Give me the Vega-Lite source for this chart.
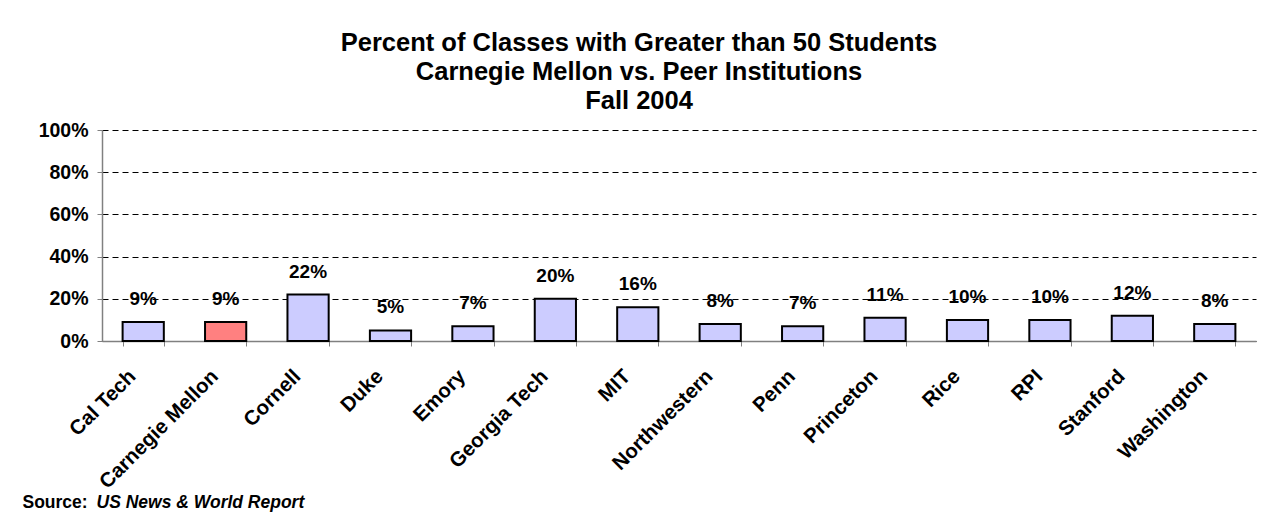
{
  "$schema": "https://vega.github.io/schema/vega-lite/v6.json",
  "autosize": {"type": "none"},
  "padding": {"left": 102, "top": 130, "right": 30, "bottom": 176},
  "width": 1154,
  "height": 211,
  "background": "white",
  "title": {
    "text": ["Percent of Classes with Greater than 50 Students", "Carnegie Mellon vs. Peer Institutions", "Fall 2004"],
    "font": "Liberation Sans",
    "fontSize": 25.5,
    "fontWeight": "bold",
    "color": "black",
    "lineHeight": 29,
    "anchor": "middle",
    "frame": "bounds",
    "offset": 6
  },
  "data": {
    "values": [
      {"school": "Cal Tech", "pct": 0.09, "cmu": "no"},
      {"school": "Carnegie Mellon", "pct": 0.09, "cmu": "yes"},
      {"school": "Cornell", "pct": 0.22, "cmu": "no"},
      {"school": "Duke", "pct": 0.05, "cmu": "no"},
      {"school": "Emory", "pct": 0.07, "cmu": "no"},
      {"school": "Georgia Tech", "pct": 0.20, "cmu": "no"},
      {"school": "MIT", "pct": 0.16, "cmu": "no"},
      {"school": "Northwestern", "pct": 0.08, "cmu": "no"},
      {"school": "Penn", "pct": 0.07, "cmu": "no"},
      {"school": "Princeton", "pct": 0.11, "cmu": "no"},
      {"school": "Rice", "pct": 0.10, "cmu": "no"},
      {"school": "RPI", "pct": 0.10, "cmu": "no"},
      {"school": "Stanford", "pct": 0.12, "cmu": "no"},
      {"school": "Washington", "pct": 0.08, "cmu": "no"}
    ]
  },
  "encoding": {
    "x": {
      "field": "school",
      "type": "nominal",
      "sort": null,
      "scale": {"paddingInner": 0.5, "paddingOuter": 0.25},
      "axis": {
        "title": "Source:",
        "titleX": -80,
        "titleY": 166,
        "titleAlign": "left",
        "titleAnchor": "start",
        "titleBaseline": "alphabetic",
        "titleFont": "Liberation Sans",
        "titleFontSize": 17.5,
        "titleFontWeight": "bold",
        "titleColor": "black",
        "labelAngle": -45,
        "labelAlign": "right",
        "labelBaseline": "middle",
        "labelFont": "Liberation Sans",
        "labelFontSize": 20.5,
        "labelFontWeight": "bold",
        "labelColor": "black",
        "labelPadding": 27,
        "labelOffset": -11,
        "tickBand": "extent",
        "tickSize": 5,
        "tickColor": "#808080",
        "domainColor": "#808080",
        "domainWidth": 1.5,
        "grid": false
      }
    },
    "y": {
      "field": "pct",
      "type": "quantitative",
      "scale": {"domain": [0, 1], "nice": false},
      "axis": {
        "values": [0, 0.2, 0.4, 0.6, 0.8, 1],
        "format": ".0%",
        "title": "US News & World Report",
        "titleAngle": 0,
        "titleX": -6,
        "titleY": 377,
        "titleAlign": "left",
        "titleBaseline": "alphabetic",
        "titleFont": "Liberation Sans",
        "titleFontSize": 17.5,
        "titleFontWeight": "bold",
        "titleFontStyle": "italic",
        "titleColor": "black",
        "labelFont": "Liberation Sans",
        "labelFontSize": 19.5,
        "labelFontWeight": "bold",
        "labelColor": "black",
        "labelPadding": 9,
        "tickSize": 5,
        "tickColor": "#808080",
        "domainColor": "#808080",
        "domainWidth": 1.5,
        "grid": true,
        "gridColor": "black",
        "gridDash": [6, 4],
        "gridWidth": 1
      }
    }
  },
  "layer": [
    {
      "mark": {"type": "bar", "stroke": "black", "strokeWidth": 2},
      "encoding": {
        "color": {
          "field": "cmu",
          "type": "nominal",
          "scale": {"domain": ["no", "yes"], "range": ["#CCCCFF", "#FF8080"]},
          "legend": null
        }
      }
    },
    {
      "mark": {"type": "text", "baseline": "alphabetic", "dy": -17, "font": "Liberation Sans", "fontSize": 19, "fontWeight": "bold", "color": "black"},
      "encoding": {
        "text": {"field": "pct", "type": "quantitative", "format": ".0%"}
      }
    }
  ],
  "config": {
    "view": {"stroke": null}
  }
}
